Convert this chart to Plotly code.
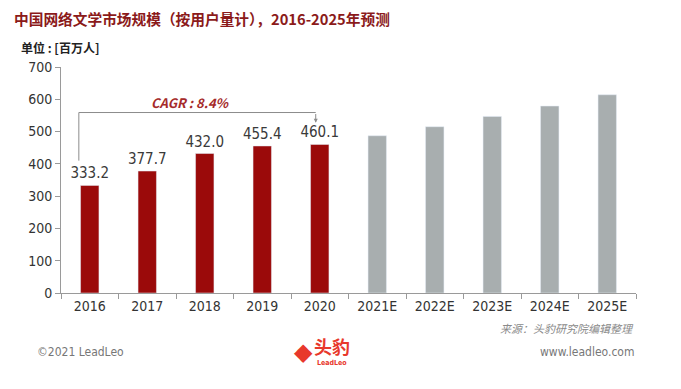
import plotly.graph_objects as go

years = ["2016", "2017", "2018", "2019", "2020", "2021E", "2022E", "2023E", "2024E", "2025E"]
actual = [333.2, 377.7, 432.0, 455.4, 460.1]
forecast = [487, 515, 547, 579, 614]
y_ticks = [0, 100, 200, 300, 400, 500, 600, 700]

red = "#9B0A0A"
gray = "#A8AEAF"
num_font = "DejaVu Sans Condensed, Roboto, sans-serif"
cjk = "Noto Sans CJK SC"

fig = go.Figure()
fig.add_trace(go.Bar(
    x=years[:5], y=actual, marker_color=red, width=0.32,
    text=[f"{v:.1f}" for v in actual], textposition="outside", constraintext="none",
    textfont=dict(family=num_font, size=15, color="#3A3A3A"),
    cliponaxis=False, showlegend=False,
))
fig.add_trace(go.Bar(
    x=years[5:], y=forecast, marker_color=gray, width=0.32, showlegend=False,
))

line_col = "#8C8C8C"
# CAGR bracket
fig.add_shape(type="line", xref="x", yref="y", x0=-0.19, x1=-0.19, y0=410, y1=559,
              line=dict(color=line_col, width=1))
fig.add_shape(type="line", xref="x", yref="y", x0=-0.19, x1=3.93, y0=559, y1=559,
              line=dict(color=line_col, width=1))
fig.add_annotation(x=3.93, y=527, ax=3.93, ay=559, xref="x", yref="y", axref="x", ayref="y",
                   showarrow=True, arrowhead=2, arrowsize=0.8, arrowwidth=1, arrowcolor=line_col, text="")
fig.add_annotation(x=1.75, y=590, xref="x", yref="y", showarrow=False,
                   text="<b><i>CAGR : 8.4%</i></b>", font=dict(family=cjk, size=13, color="#A52A2A"))

# pixel-positioned texts (x, y in page pixels)
pix = [
    (12, 18, "<b>中国网络文学市场规模（按用户量计），2016-2025年预测</b>", cjk, 14.7, "#8B1A1A", "left"),
    (19, 47, "<b>单位 : [百万人]</b>", cjk, 12, "#222222", "left"),
    (636, 328, "<i>来源：头豹研究院编辑整理</i>", cjk, 11, "#8A8A8A", "right"),
    (35, 352, "©2021 LeadLeo", num_font, 12, "#777777", "left"),
    (636, 352, "www.leadleo.com", num_font, 12, "#777777", "right"),
    (332, 346, "<b>头豹</b>", cjk, 18, "#E8382C", "center"),
    (332, 363, "<b>LeadLeo</b>", num_font, 7, "#E8382C", "center"),
    (303, 350, "◆", None, 24, "#E8382C", "center"),
]
W, H = 681, 389
ml, mr, mt, mb = 61, 45, 67, 96
pw, ph = W - ml - mr, H - mt - mb
for (px, py, txt, fam, sz, col, anc) in pix:
    f = dict(size=sz, color=col)
    if fam:
        f["family"] = fam
    fig.add_annotation(x=(px - ml) / pw, y=(H - mb - py) / ph, xref="paper", yref="paper",
                       showarrow=False, text=txt, font=f, xanchor=anc, yanchor="middle")

fig.update_layout(
    width=W, height=H, margin=dict(l=ml, r=mr, t=mt, b=mb),
    plot_bgcolor="white", paper_bgcolor="white", bargap=0.68,
    xaxis=dict(type="category", showline=True, linecolor="#9A9A9A", linewidth=1,
               ticks="outside", tickson="boundaries", ticklen=5, tickcolor="#9A9A9A",
               tickfont=dict(family=num_font, size=14, color="#333333"), showgrid=False),
    yaxis=dict(range=[0, 700], tickvals=y_ticks, showline=True, linecolor="#9A9A9A", linewidth=1,
               ticks="outside", ticklen=5, tickcolor="#9A9A9A", showgrid=False, zeroline=False,
               tickfont=dict(family=num_font, size=14, color="#333333")),
)
fig.write_html("out.html", config={"displayModeBar": False},
               post_script="document.body.style.margin='0px';")
